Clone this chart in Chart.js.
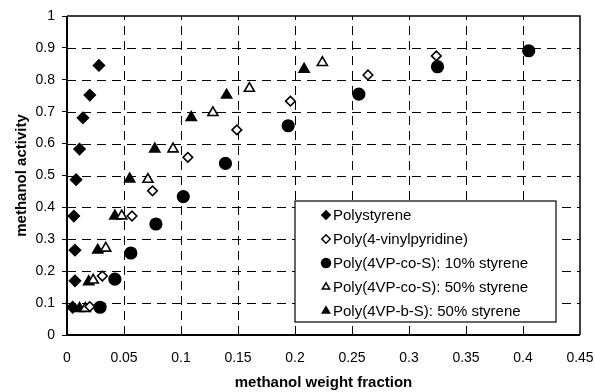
<!DOCTYPE html>
<html><head><meta charset="utf-8">
<script src="https://cdn.jsdelivr.net/npm/chart.js@4.4.1/dist/chart.umd.min.js"></script>
<style>html,body{margin:0;padding:0;background:#fff}#wrap{width:595px;height:392px;position:relative}</style>
</head><body><div id="wrap"><canvas id="c" width="595" height="392"></canvas></div>
<script>
const seriesNames = ["Polystyrene","Poly(4-vinylpyridine)","Poly(4VP-co-S): 10% styrene","Poly(4VP-co-S): 50% styrene","Poly(4VP-b-S): 50% styrene"];
const polystyreneX = [0.005,0.007,0.007,0.006,0.008,0.011,0.014,0.020,0.028];
const polystyreneY = [0.087,0.170,0.266,0.373,0.487,0.583,0.681,0.752,0.845];
const p4vpX = [0.020,0.031,0.057,0.075,0.106,0.149,0.196,0.264,0.324];
const p4vpY = [0.089,0.185,0.373,0.452,0.557,0.643,0.733,0.815,0.875];
const co10X = [0.029,0.042,0.056,0.078,0.102,0.139,0.194,0.256,0.325,0.405];
const co10Y = [0.087,0.175,0.257,0.348,0.434,0.538,0.656,0.755,0.841,0.891];
const co50X = [0.016,0.023,0.034,0.048,0.071,0.093,0.128,0.160,0.224];
const co50Y = [0.083,0.172,0.272,0.373,0.488,0.583,0.697,0.773,0.854];
const bsX = [0.011,0.019,0.027,0.042,0.055,0.077,0.109,0.140,0.208];
const bsY = [0.083,0.167,0.266,0.373,0.489,0.583,0.682,0.752,0.833];
const xTickLabels = ["0","0.05","0.1","0.15","0.2","0.25","0.3","0.35","0.4","0.45"];
const yTickLabels = ["0","0.1","0.2","0.3","0.4","0.5","0.6","0.7","0.8","0.9","1"];
const xTitle = "methanol weight fraction";
const yTitle = "methanol activity";

function pts(xs, ys){ return xs.map((x,i)=>({x:x,y:ys[i]})); }
const styles = [
  {pointStyle:'rectRot', bg:'#000', r:5.5},
  {pointStyle:'rectRot', bg:'#fff', r:4.8},
  {pointStyle:'circle', bg:'#000', r:5.8},
  {pointStyle:'triangle', bg:'#fff', r:5.8},
  {pointStyle:'triangle', bg:'#000', r:5.8}
];
const allData = [pts(polystyreneX,polystyreneY),pts(p4vpX,p4vpY),pts(co10X,co10Y),pts(co50X,co50Y),pts(bsX,bsY)];
const datasets = allData.map((d,i)=>({
  label: seriesNames[i], data: d, showLine:false,
  pointStyle: styles[i].pointStyle, pointRadius: styles[i].r, pointHoverRadius: styles[i].r,
  pointBackgroundColor: styles[i].bg, pointBorderColor:'#000', pointBorderWidth:1.6
}));

const frame = {
  id:'frame',
  beforeDatasetsDraw(chart){
    const {ctx, chartArea:a, scales} = chart;
    ctx.save();
    ctx.strokeStyle='#000';
    ctx.lineWidth=1;
    ctx.setLineDash([9,6]);
    scales.x.ticks.forEach(t=>{
      const px = Math.round(scales.x.getPixelForValue(t.value))+0.5;
      if (px <= a.left+2 || px >= a.right-2) return;
      ctx.beginPath(); ctx.moveTo(px,a.bottom); ctx.lineTo(px,a.top); ctx.stroke();
    });
    scales.y.ticks.forEach(t=>{
      const py = Math.round(scales.y.getPixelForValue(t.value))+0.5;
      if (py <= a.top+2 || py >= a.bottom-2) return;
      ctx.beginPath(); ctx.moveTo(a.left,py); ctx.lineTo(a.right,py); ctx.stroke();
    });
    ctx.setLineDash([]);
    ctx.lineWidth=1.5;
    ctx.beginPath(); ctx.moveTo(a.left,a.top); ctx.lineTo(a.right,a.top); ctx.lineTo(a.right,a.bottom); ctx.stroke();
    ctx.lineWidth=2;
    ctx.beginPath(); ctx.moveTo(a.left,a.top); ctx.lineTo(a.left,a.bottom); ctx.lineTo(a.right,a.bottom); ctx.stroke();
    ctx.restore();
  },
  afterDatasetsDraw(chart){
    const {ctx} = chart;
    const bx=295, by=201, bw=261, bh=121;
    ctx.save();
    ctx.fillStyle='#fff'; ctx.fillRect(bx,by,bw,bh);
    ctx.strokeStyle='#000'; ctx.lineWidth=1.2; ctx.strokeRect(bx,by,bw,bh);
    ctx.font='15px "Liberation Sans", Arial, sans-serif';
    ctx.textBaseline='middle'; ctx.fillStyle='#000';
    chart.data.datasets.forEach((ds,i)=>{
      const y = by+14+i*24;
      const s = styles[i];
      ctx.save();
      ctx.lineWidth=1.5; ctx.strokeStyle='#000'; ctx.fillStyle=s.bg;
      Chart.helpers.drawPoint(ctx,{pointStyle:s.pointStyle,radius:s.pointStyle==='circle'?4.5:4.2,rotation:0,borderWidth:1.5},326,y);
      ctx.restore();
      ctx.fillStyle='#000';
      ctx.fillText(ds.label,333,y+1);
    });
    ctx.restore();
  }
};

new Chart(document.getElementById('c'),{
  type:'scatter',
  data:{datasets:datasets},
  options:{
    responsive:false, animation:false, devicePixelRatio:1,
    layout:{padding:{top:16,right:15,left:0,bottom:0}},
    plugins:{legend:{display:false},tooltip:{enabled:false}},
    scales:{
      x:{type:'linear',min:0,max:0.45,
        afterFit:s=>{s.height=57;s.paddingLeft=0;s.paddingRight=0;},
        afterBuildTicks:s=>{s.ticks=xTickLabels.map((t,i)=>({value:i*0.05}));},
        ticks:{color:'#000',font:{family:'"Liberation Sans", Arial',size:14},padding:15,
          callback:(v,i)=>xTickLabels[i]},
        grid:{drawOnChartArea:false,drawTicks:false},
        border:{display:false},
        title:{display:true,text:xTitle,color:'#000',font:{family:'"Liberation Sans", Arial',size:15,weight:'bold'},padding:{top:0,bottom:0}}
      },
      y:{type:'linear',min:0,max:1,
        afterFit:s=>{s.width=67;s.paddingTop=0;s.paddingBottom=0;},
        afterBuildTicks:s=>{s.ticks=yTickLabels.map((t,i)=>({value:i*0.1}));},
        ticks:{color:'#000',font:{family:'"Liberation Sans", Arial',size:14},padding:7,
          callback:(v,i)=>yTickLabels[i]},
        grid:{drawOnChartArea:false,drawTicks:true,tickLength:5,tickColor:'#000',tickWidth:1},
        border:{display:false},
        title:{display:true,text:yTitle,color:'#000',font:{family:'"Liberation Sans", Arial',size:15,weight:'bold'},padding:{top:13,bottom:0}}
      }
    }
  },
  plugins:[frame]
});
</script></body></html>
